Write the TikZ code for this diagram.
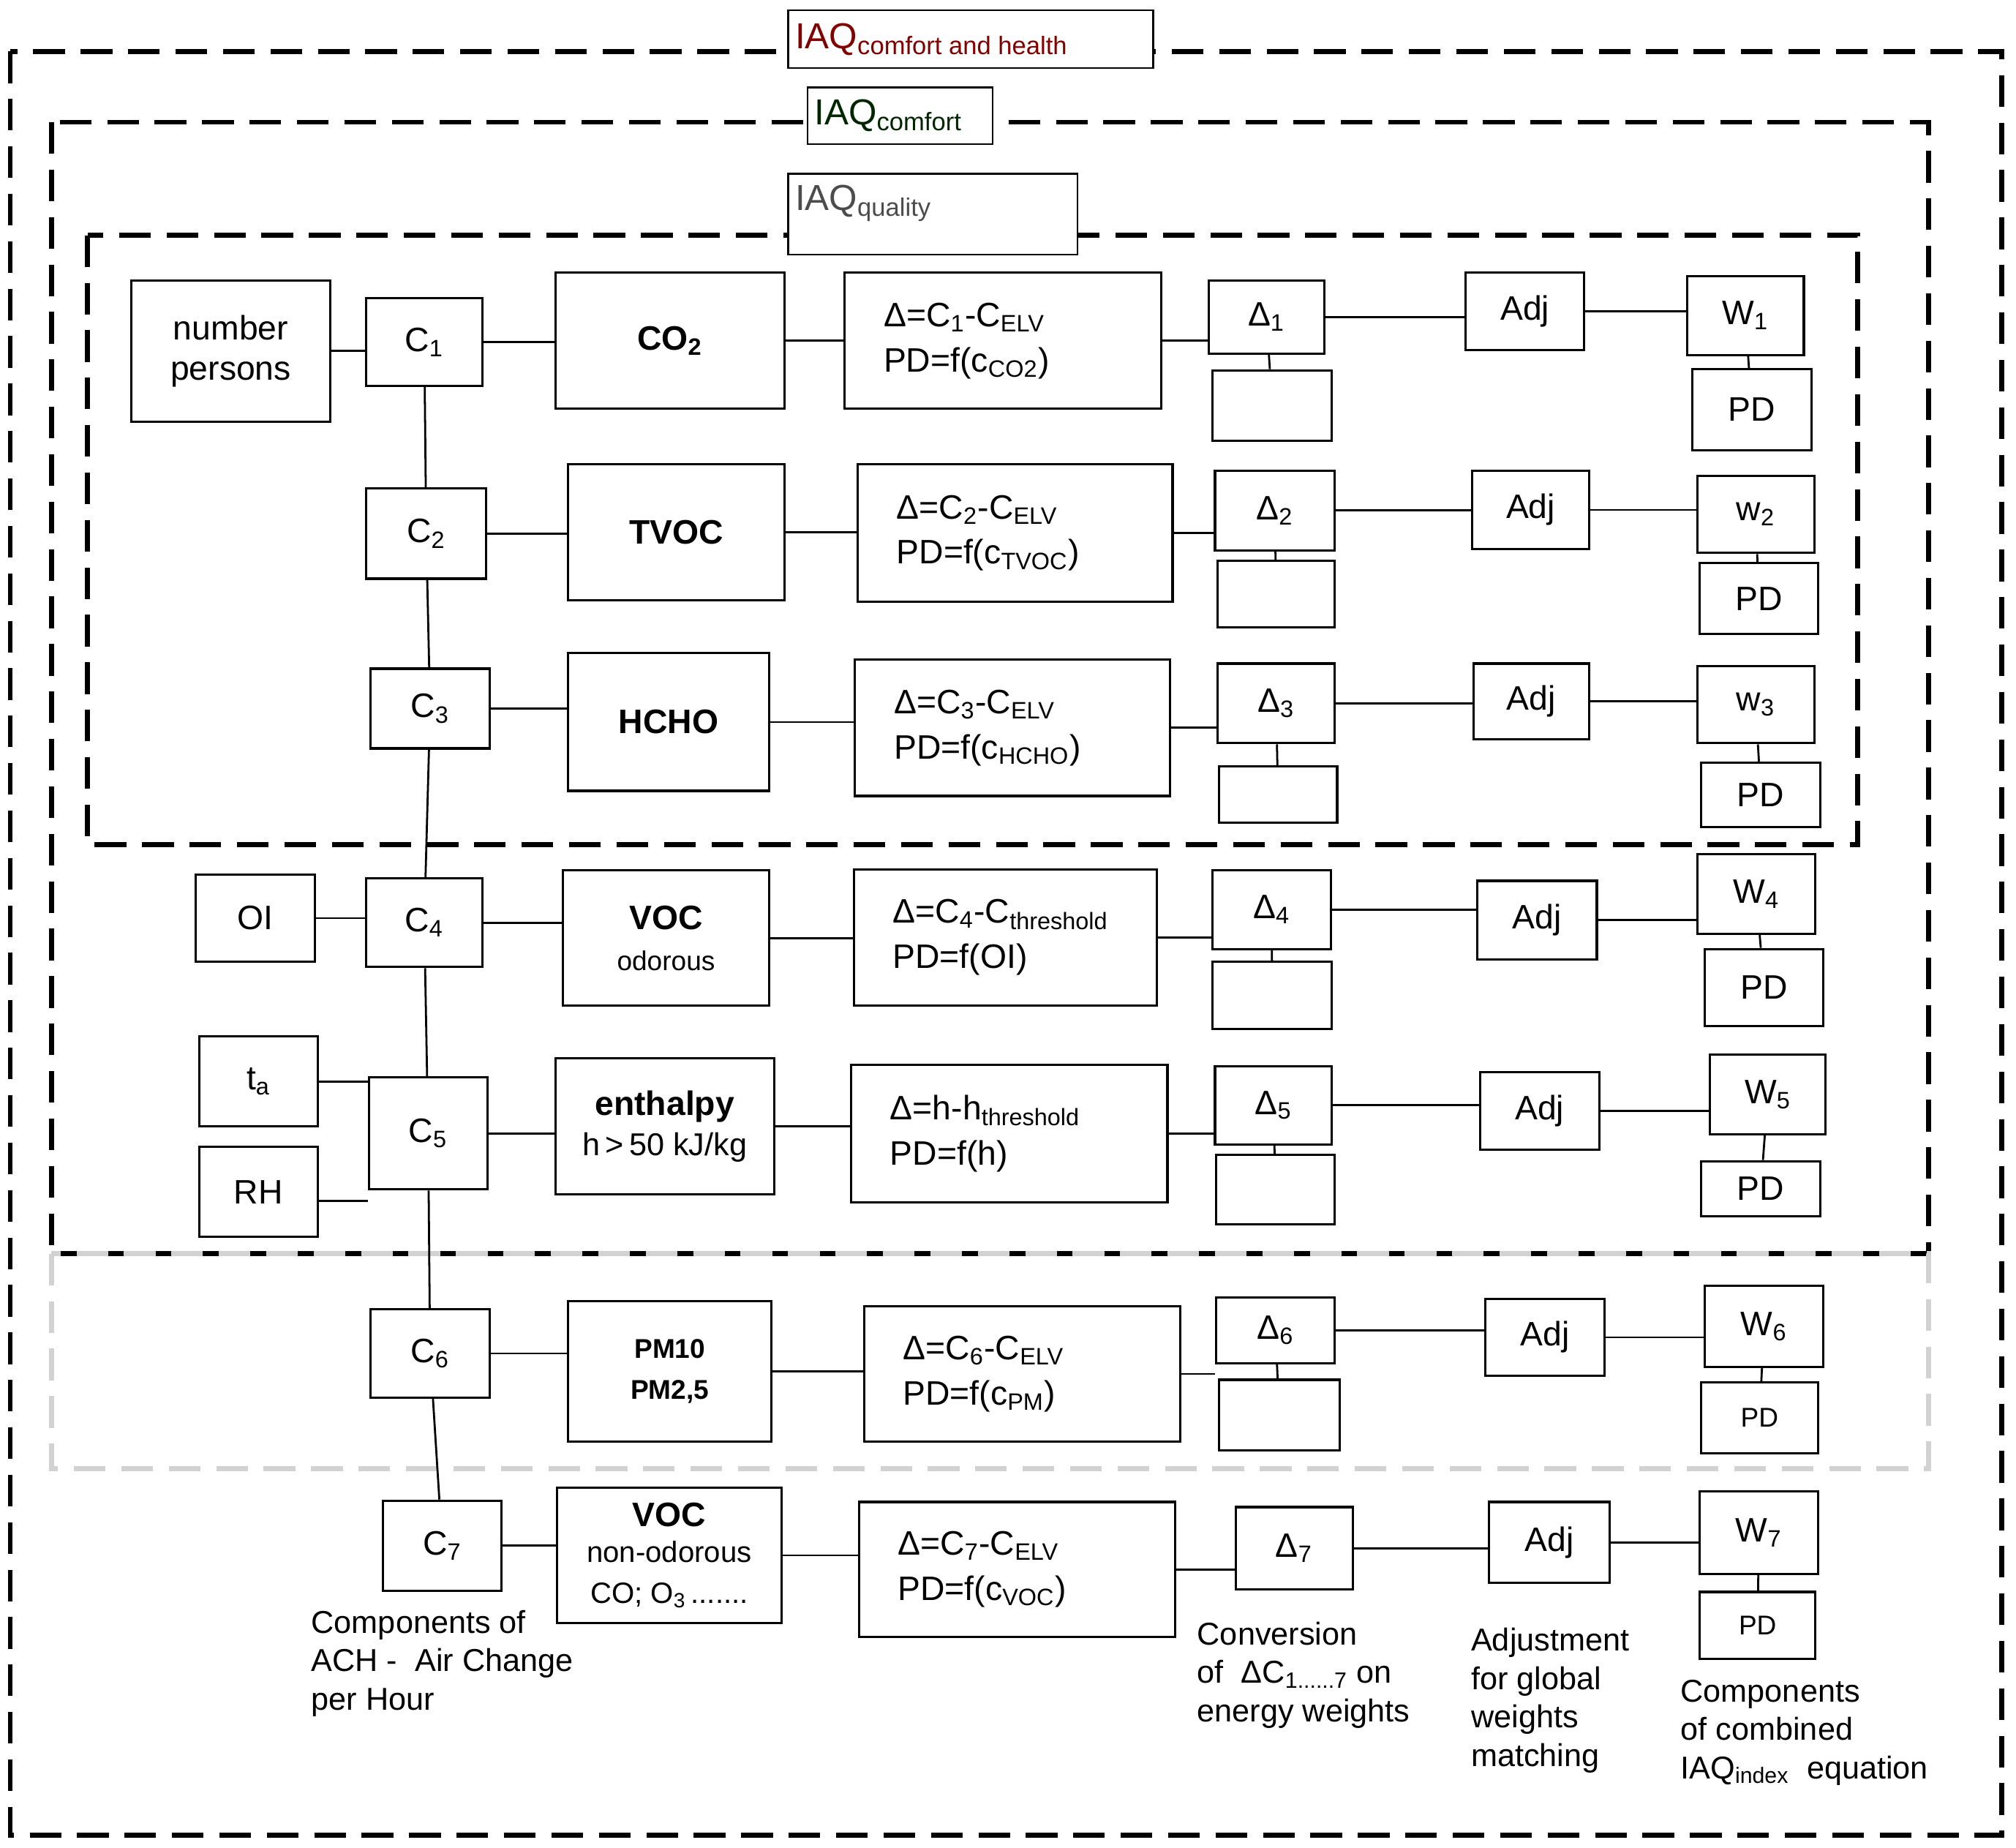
\documentclass[tikz,border=0pt]{standalone}
\usepackage{fontspec}
\setmainfont{Liberation Sans}
\usetikzlibrary{fit}
\newcommand\sbs[1]{\textsubscript{#1}}
\newcommand\bx[6]{\node[box,fit={(#2,#3)(#4,#5)}] (#1) {};\node[txt] at (#1.center) {#6};}
\newcommand\fx[6]{\node[box,fit={(#2,#3)(#4,#5)}] (#1) {};\node[align=left,anchor=west,font=\fontsize{15}{20}\selectfont] at ([xshift=0.5cm]#1.west) {#6};}
\begin{document}
\begin{tikzpicture}[x=0.02cm,y=-0.02cm,
 box/.style={draw,line width=1pt,inner sep=0pt},
 txt/.style={align=center,font=\fontsize{15}{18}\selectfont,inner sep=0pt},
 dsh/.style={line width=2.2pt,dash pattern=on 14pt off 7pt},
 ln/.style={line width=0.9pt}]
\useasboundingbox (0,0) rectangle (1568,1437);
\fill[white] (0,0) rectangle (1568,1437);
% dashed frames
\draw[dsh] (8,40) rectangle (1557,1427);
\draw[dsh] (40,95) rectangle (1500,975);
\draw[dsh] (68,183) rectangle (1445,657);
\draw[dsh,gray!35] (40,975) rectangle (1500,1142);
% titles
\node[draw,fill=white,line width=0.8pt,fit={(613,8)(897,53)},inner sep=0] (t1) {};
\node[anchor=west,text=red!50!black,font=\fontsize{16}{18}\selectfont] at (t1.west) {IAQ\sbs{comfort and health}};
\node[draw,fill=white,line width=0.8pt,fit={(628,68)(772,112)},inner sep=0] (t2) {};
\node[anchor=west,text=black!85!green,font=\fontsize{16}{18}\selectfont] at (t2.west) {IAQ\sbs{comfort}};
\node[draw,fill=white,line width=0.8pt,fit={(613,135)(838,198)},inner sep=0] (t3) {};
\node[anchor=north west,text=black!70,font=\fontsize{16}{18}\selectfont] at ([yshift=-2pt]t3.north west) {IAQ\sbs{quality}};
% row 1
\bx{np}{102}{218}{257}{328}{number\\persons}
\bx{c1}{285}{232}{375}{300}{C\sbs{1}}
\bx{g1}{432}{212}{610}{318}{\textbf{CO\sbs{2}}}
\fx{f1}{657}{212}{903}{318}{Δ=C\sbs{1}-C\sbs{ELV}\\PD=f(c\sbs{CO2})}
\bx{d1}{940}{218}{1030}{275}{Δ\sbs{1}}
\bx{e1}{943}{288}{1036}{343}{}
\bx{a1}{1140}{212}{1232}{272}{Adj}
\bx{w1}{1312}{215}{1403}{276}{W\sbs{1}}
\bx{p1}{1316}{287}{1409}{350}{PD}
% row 2
\bx{c2}{285}{380}{378}{450}{C\sbs{2}}
\bx{g2}{442}{361}{610}{467}{\textbf{TVOC}}
\fx{f2}{667}{361}{912}{468}{Δ=C\sbs{2}-C\sbs{ELV}\\PD=f(c\sbs{TVOC})}
\bx{d2}{945}{366}{1038}{428}{Δ\sbs{2}}
\bx{e2}{947}{436}{1038}{488}{}
\bx{a2}{1145}{366}{1236}{427}{Adj}
\bx{w2}{1320}{370}{1411}{430}{w\sbs{2}}
\bx{p2}{1322}{438}{1414}{493}{PD}
% row 3
\bx{c3}{288}{520}{381}{582}{C\sbs{3}}
\bx{g3}{442}{508}{598}{615}{\textbf{HCHO}}
\fx{f3}{665}{513}{910}{619}{Δ=C\sbs{3}-C\sbs{ELV}\\PD=f(c\sbs{HCHO})}
\bx{d3}{947}{516}{1038}{578}{Δ\sbs{3}}
\bx{e3}{948}{596}{1040}{640}{}
\bx{a3}{1146}{516}{1236}{575}{Adj}
\bx{w3}{1320}{518}{1411}{578}{w\sbs{3}}
\bx{p3}{1323}{593}{1416}{643}{PD}
% row 4
\bx{oi}{152}{680}{245}{748}{OI}
\bx{c4}{285}{683}{375}{752}{C\sbs{4}}
\bx{g4}{438}{677}{598}{782}{\textbf{VOC}\\{\fontsize{12}{16}\selectfont odorous}}
\fx{f4}{664}{676}{900}{782}{Δ=C\sbs{4}-C\sbs{threshold}\\PD=f(OI)}
\bx{d4}{943}{677}{1035}{738}{Δ\sbs{4}}
\bx{e4}{943}{748}{1036}{800}{}
\bx{a4}{1149}{685}{1242}{746}{Adj}
\bx{w4}{1320}{664}{1412}{726}{W\sbs{4}}
\bx{p4}{1326}{738}{1418}{798}{PD}
% row 5
\bx{ta}{155}{806}{247}{876}{t\sbs{a}}
\bx{rh}{155}{892}{247}{962}{RH}
\bx{c5}{287}{838}{379}{925}{C\sbs{5}}
\bx{g5}{432}{823}{602}{929}{\textbf{enthalpy}\\{\fontsize{14}{18}\selectfont h\,>\,50 kJ/kg}}
\fx{f5}{662}{828}{908}{935}{Δ=h-h\sbs{threshold}\\PD=f(h)}
\bx{d5}{945}{829}{1036}{890}{Δ\sbs{5}}
\bx{e5}{946}{898}{1038}{952}{}
\bx{a5}{1151}{834}{1244}{894}{Adj}
\bx{w5}{1330}{820}{1420}{882}{W\sbs{5}}
\bx{p5}{1323}{903}{1416}{946}{PD}
% row 6
\bx{c6}{288}{1018}{381}{1087}{C\sbs{6}}
\bx{g6}{442}{1012}{600}{1121}{{\fontsize{12}{15}\selectfont\textbf{PM10}}\\{\fontsize{12}{15}\selectfont\textbf{PM2,5}}}
\fx{f6}{672}{1016}{918}{1121}{Δ=C\sbs{6}-C\sbs{ELV}\\PD=f(c\sbs{PM})}
\bx{d6}{946}{1009}{1038}{1060}{Δ\sbs{6}}
\bx{e6}{948}{1073}{1042}{1128}{}
\bx{a6}{1155}{1010}{1248}{1070}{Adj}
\bx{w6}{1326}{1000}{1418}{1063}{W\sbs{6}}
\bx{p6}{1323}{1075}{1414}{1130}{{\fontsize{12}{14}\selectfont PD}}
% row 7
\bx{c7}{298}{1167}{390}{1237}{C\sbs{7}}
\bx{g7}{433}{1157}{608}{1262}{\textbf{VOC}\\[-2pt]{\fontsize{13}{15}\selectfont non-odorous}\\{\fontsize{13}{15}\selectfont CO; O\sbs{3}\,.......}}
\fx{f7}{668}{1168}{914}{1273}{Δ=C\sbs{7}-C\sbs{ELV}\\PD=f(c\sbs{VOC})}
\bx{d7}{961}{1172}{1052}{1236}{Δ\sbs{7}}
\bx{a7}{1158}{1168}{1252}{1231}{Adj}
\bx{w7}{1322}{1160}{1414}{1224}{W\sbs{7}}
\bx{p7}{1322}{1238}{1412}{1290}{{\fontsize{12}{14}\selectfont PD}}
% connectors
\draw[ln] (np.east) -- (np.east -| c1.west);
\draw[ln] (oi.east) -- (oi.east -| c4.west);
\draw[ln] (ta.east) -- (ta.east -| c5.west);
\draw[ln] ([yshift=-4pt]rh.east) -- ([yshift=-4pt]rh.east -| c5.west);
\foreach \i/\j in {1/2,2/3,3/4,4/5,5/6,6/7} \draw[ln] (c\i) -- (c\j);
\foreach \i in {1,...,7}{
 \draw[ln] (c\i.east) -- (c\i.east -| g\i.west);
 \draw[ln] (g\i.east) -- (g\i.east -| f\i.west);
 \draw[ln] (f\i.east) -- (f\i.east -| d\i.west);
 \draw[ln] (d\i.east) -- (d\i.east -| a\i.west);
 \draw[ln] (a\i.east) -- (a\i.east -| w\i.west);
 \draw[ln] (w\i) -- (p\i);}
\foreach \i in {1,...,6} \draw[ln] (d\i) -- (e\i);
% captions
\node[anchor=north west,align=left,font=\fontsize{14}{17}\selectfont] (k1) at (236,1246) {Components of\\ACH -\ \ Air Change\\ per Hour};
\node[anchor=north west,align=left,font=\fontsize{14}{17}\selectfont] (k2) at (925,1255) {Conversion\\of\ \ ΔC\sbs{1......7} on\\energy weights};
\node[anchor=north west,align=left,font=\fontsize{14}{17}\selectfont] (k3) at (1138,1260) {Adjustment\\for global\\weights\\matching};
\node[anchor=north west,align=left,font=\fontsize{14}{17}\selectfont] (k4) at (1301,1300) {Components\\of combined\\IAQ\sbs{index}\ \ equation};
\end{tikzpicture}
\end{document}
